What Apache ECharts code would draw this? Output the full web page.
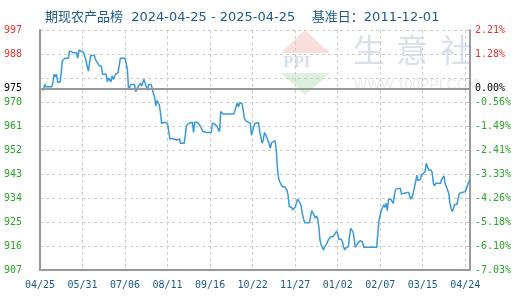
<!DOCTYPE html>
<html>
<head>
<meta charset="utf-8">
<script src="https://cdn.jsdelivr.net/npm/echarts@6/dist/echarts.min.js"></script>
<style>html,body{margin:0;padding:0;background:#fff}#c{width:520px;height:300px}</style>
</head>
<body>
<div id="c"></div>
<script>
// Day offsets from 2024-04-25
var days = [0,1,3,4,5,10,11,12,13,14,15,17,18,19,20,21,24,25,28,31,32,33,35,37,39,40,41,42,43,46,47,48,50,52,53,56,57,58,60,61,62,64,66,67,68,72,73,74,75,76,77,80,81,82,83,85,86,88,89,90,91,92,94,95,96,97,98,99,100,101,102,103,104,106,108,109,110,111,112,113,116,118,119,122,123,124,126,127,129,130,131,133,135,136,138,141,145,146,148,150,151,152,153,155,164,166,167,168,169,171,172,173,174,175,178,179,181,182,185,186,187,188,189,190,191,192,194,195,196,197,199,200,201,202,203,205,207,208,209,210,211,213,214,216,217,218,219,220,221,222,223,224,228,229,230,231,232,233,234,235,236,237,238,239,240,241,243,244,246,248,250,251,252,253,255,256,257,258,259,261,262,263,264,265,266,267,268,269,270,271,272,273,274,285,286,287,288,289,290,291,292,293,294,295,297,298,299,300,301,303,305,306,307,310,312,313,314,315,316,317,318,319,320,321,322,323,324,326,327,328,329,331,332,333,334,335,339,340,341,342,343,344,345,346,347,348,349,350,351,353,354,355,356,360,361,362,363,364];
var values = [975.0,974.5,974.5,976.6,975.7,975.7,977.6,980.4,979.5,980.4,977.4,977.4,981.1,985.5,984.8,986.4,986.4,989.2,988.5,988.5,986.4,989.5,989.0,988.5,985.5,983.3,981.6,985.0,987.4,987.4,985.9,985.4,983.7,983.3,980.4,980.4,977.6,979.0,977.6,979.8,978.5,980.4,981.0,983.5,986.4,986.4,984.5,982.0,974.7,974.0,976.6,976.6,973.9,974.2,975.7,977.0,976.0,978.5,977.0,975.7,974.4,976.6,976.6,975.1,973.2,972.0,968.5,970.5,970.5,968.9,965.8,962.0,961.75,962.4,961.75,958.9,956.1,955.75,956.3,955.75,955.75,956.2,954.5,954.5,957.6,961.1,962.0,962.4,962.4,958.6,962.4,962.4,961.5,960.75,958.9,958.6,958.6,962.0,961.75,960.75,959.75,958.9,966.4,965.5,965.5,968.25,969.75,968.25,969.5,969.5,967.0,963.9,963.0,962.4,962.0,957.6,960.75,962.0,962.25,958.9,956.75,954.5,955.75,958.6,958.6,956.75,954.25,952.6,954.75,955.5,955.5,952.0,945.1,941.4,940.1,938.25,938.25,937.6,937.0,935.1,930.75,930.5,929.5,930.5,932.0,933.6,933.25,932.25,931.0,928.25,926.4,924.75,924.75,927.0,929.25,928.5,927.6,926.4,927.25,926.4,923.25,918.25,916.4,915.75,914.5,915.75,917.0,918.25,919.5,919.5,920.75,921.6,920.75,918.5,918.5,917.5,915.75,914.5,915.3,915.75,919.5,922.6,922.0,921.3,918.5,915.5,915.5,917.0,917.5,918.0,918.5,917.5,915.5,915.5,921.0,925.75,927.6,929.5,930.1,931.4,930.5,932.0,929.25,933.5,933.5,933.0,932.0,935.1,937.25,937.6,937.6,935.5,936.0,936.0,936.2,934.5,933.6,934.5,936.0,936.0,940.1,942.6,940.5,941.0,941.0,942.6,942.7,943.9,947.0,946.4,944.5,944.5,943.5,939.5,938.5,939.5,939.5,941.0,940.6,942.25,939.25,938.25,938.25,935.75,932.0,930.1,928.9,930.1,931.6,931.6,934.0,935.75,936.4,936.4,937.5,938.9,940.1,941.0];
var xTickLabels = ['04/25','05/31','07/06','08/11','09/16','10/22','11/27','01/02','02/07','03/15','04/24'];
var yTicks = [907,916,925,934,943,952,961,970,979,988,997];
var pctLabels = ['-7.03%','-6.10%','-5.18%','-4.26%','-3.33%','-2.41%','-1.49%','-0.56%','','1.28%','2.21%'];
var baseValue = 975;
var baseLabel = '975';
var basePct = '0.00%';
var titleText = '期现农产品榜  2024-04-25 - 2025-04-25    基准日：2011-12-01';

var seriesData = days.map(function(d, i){ return [d, values[i]]; });
var mono = 'DejaVu Sans Mono';
var RED = '#f03030', GREEN = '#2aa52a';

var chart = echarts.init(document.getElementById('c'), null, {renderer:'canvas'});
chart.setOption({
  animation: false,
  backgroundColor: '#fff',
  title: {
    text: titleText, left: 40, top: 6,
    textStyle: {fontSize: 13, fontWeight: 'normal', color: '#1a5a8c', fontFamily: 'DejaVu Sans, Noto Sans CJK SC'}
  },
  graphic: [
    {type:'polygon', z:-10, silent:true, shape:{points:[[305,30],[330,53],[281,53]]}, style:{fill:'#f9dede'}},
    {type:'polygon', z:-10, silent:true, shape:{points:[[281,73],[330,73],[305,95]]}, style:{fill:'#ddefdd'}},
    {type:'text', z:-10, silent:true, left:283, top:54, style:{text:'PPI', fill:'#d8dfec', font:'bold 17px Liberation Serif', }},
    {type:'text', z:-10, silent:true, left:353, top:34, style:{text:'生', fill:'#d9e0ea', font:'32px Noto Sans CJK SC'}},
    {type:'text', z:-10, silent:true, left:396, top:34, style:{text:'意', fill:'#d9e0ea', font:'32px Noto Sans CJK SC'}},
    {type:'text', z:-10, silent:true, left:440, top:34, style:{text:'社', fill:'#d9e0ea', font:'32px Noto Sans CJK SC'}},
    {type:'text', z:-10, silent:true, left:354, top:78, style:{text:'WWW.100PPI.COM', fill:'#ebebeb', font:'14px Liberation Sans'}}
  ],
  grid: {left: 40, right: 50, top: 30, bottom: 30, containLabel: false},
  xAxis: {
    type: 'value', min: 0, max: 364, interval: 36,
    axisLine: {show: true, lineStyle: {color: '#999', width: 2}},
    axisTick: {show: false},
    splitLine: {show: true, lineStyle: {color: '#ccc', type: [3, 3]}},
    axisLabel: {
      margin: 10, fontSize: 10, fontFamily: mono, color: '#1a5a8c',
      showMaxLabel: false,
      formatter: function(v){ return (v % 36 === 0) ? (xTickLabels[v/36] || '') : ''; }
    }
  },
  yAxis: [{
    type: 'value', min: 907, max: 997, interval: 9, position: 'left',
    axisLine: {show: true, lineStyle: {color: '#999', width: 2}},
    axisTick: {show: false},
    splitLine: {show: true, lineStyle: {color: '#ccc', type: [3, 3]}},
    axisLabel: {
      margin: 18, fontSize: 10, fontFamily: mono,
      color: function(v){ return Number(v) > baseValue ? RED : GREEN; },
      formatter: function(v){ var i = yTicks.indexOf(v); return (i < 0 || pctLabels[i] === '') ? '' : String(v); }
    }
  }, {
    type: 'value', min: 907, max: 997, interval: 9, position: 'right',
    axisLine: {show: true, lineStyle: {color: '#999', width: 2}},
    axisTick: {show: false},
    splitLine: {show: false},
    axisLabel: {
      margin: 5, fontSize: 10, fontFamily: mono,
      color: function(v){ return Number(v) > baseValue ? RED : GREEN; },
      formatter: function(v){ var i = yTicks.indexOf(v); return i < 0 ? '' : pctLabels[i]; }
    }
  }],
  series: [{
    type: 'line', data: seriesData, showSymbol: false, symbol: 'none',
    lineStyle: {color: '#3a9ad9', width: 1.5},
    markLine: {
      silent: true, symbol: 'none', animation: false,
      lineStyle: {color: '#999', type: 'solid', width: 2},
      data: [
        {yAxis: baseValue, label: {position: 'start', distance: 18, formatter: baseLabel, color: '#000', fontSize: 10, fontFamily: mono}},
        {yAxis: baseValue, label: {position: 'end', distance: 5, formatter: basePct, color: '#000', fontSize: 10, fontFamily: mono}}
      ]
    }
  }]
});
</script>
</body>
</html>
